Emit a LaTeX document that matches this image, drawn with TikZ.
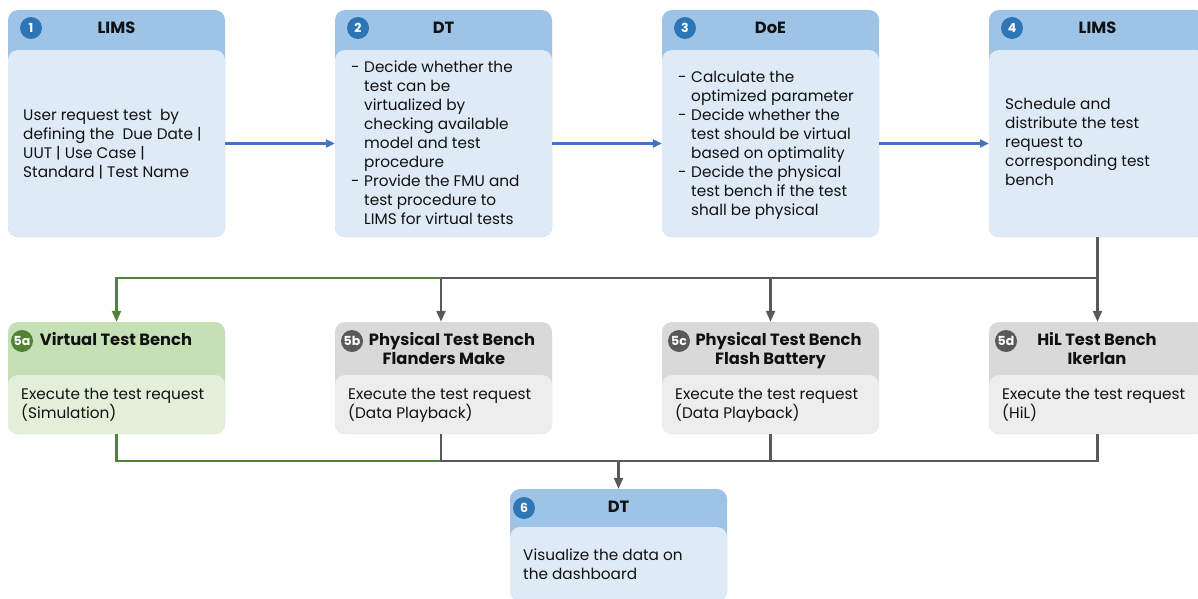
\documentclass[tikz,border=0pt]{standalone}
\usepackage{fontspec}
\setmainfont{Poppins}
\usetikzlibrary{arrows.meta}
\definecolor{bhd}{HTML}{9DC3E6}
\definecolor{bbd}{HTML}{DEEBF7}
\definecolor{bbadge}{HTML}{2E75B6}
\definecolor{ghd}{HTML}{C5E0B4}
\definecolor{gbd}{HTML}{E2F0D9}
\definecolor{gbadge}{HTML}{548235}
\definecolor{khd}{HTML}{D9D9D9}
\definecolor{kbd}{HTML}{EDEDED}
\definecolor{kbadge}{HTML}{595959}
\definecolor{bline}{HTML}{4472C4}
\definecolor{gline}{HTML}{548235}
\definecolor{kline}{HTML}{595959}
\definecolor{txt}{HTML}{111111}
\begin{document}
\begin{tikzpicture}[x=1pt,y=-1pt,
  card/.style={rectangle,rounded corners=10pt,inner sep=0pt,draw=none,minimum width=217pt},
  badge/.style={circle,inner sep=0pt,minimum size=22pt,text=white,font=\fontsize{12.5}{12.5}\selectfont\bfseries},
  hdtext/.style={inner sep=0pt,align=center,text=txt,font=\fontsize{16.3}{19}\selectfont\bfseries},
  bdtext/.style={inner sep=0pt,align=left,anchor=west,text=txt,font=\fontsize{15.3}{19}\selectfont},
  bar/.style={line width=2.2pt},
  barb/.style={bar,draw=bline,-{Triangle[length=9pt,width=8pt]}},
  tipk/.style={-{Triangle[length=11pt,width=9pt]}},
]
\useasboundingbox (0,0) rectangle (1198,599);
\fill[white] (0,0) rectangle (1198,599);
\newcommand{\dash}{\makebox[13pt][l]{-}}
\newcommand{\ind}{\hspace*{13pt}}
% ---- row 1
\node[card,fill=bhd,minimum height=227pt] (b1) at (116.5,123.5) {};
\node[card,fill=bbd,minimum height=187pt] (b1b) at (116.5,143.5) {};
\node[badge,fill=bbadge] (n1) at (31,28) {1};
\node[hdtext] (h1) at (116.5,28) {LIMS};
\node[bdtext] (t1) at (23,144) {User request test\ \ by\\defining the\ \ Due Date |\\UUT | Use Case |\\Standard | Test Name};

\node[card,fill=bhd,minimum height=227pt] (b2) at (443.5,123.5) {};
\node[card,fill=bbd,minimum height=187pt] (b2b) at (443.5,143.5) {};
\node[badge,fill=bbadge] (n2) at (358,28) {2};
\node[hdtext] (h2) at (443.5,28) {DT};
\node[bdtext] (t2) at (351,143) {\dash Decide whether the\\\ind test can be\\\ind virtualized by\\\ind checking available\\\ind model and test\\\ind procedure\\\dash Provide the FMU and\\\ind test procedure to\\\ind LIMS for virtual tests};

\node[card,fill=bhd,minimum height=227pt] (b3) at (770.5,123.5) {};
\node[card,fill=bbd,minimum height=187pt] (b3b) at (770.5,143.5) {};
\node[badge,fill=bbadge] (n3) at (685,28) {3};
\node[hdtext] (h3) at (770.5,28) {DoE};
\node[bdtext] (t3) at (678,145.5) {\dash Calculate the\\\ind optimized parameter\\\dash Decide whether the\\\ind test should be virtual\\\ind based on optimality\\\dash Decide the physical\\\ind test bench if the test\\\ind shall be physical};

\node[card,fill=bhd,minimum height=227pt] (b4) at (1097.5,123.5) {};
\node[card,fill=bbd,minimum height=187pt] (b4b) at (1097.5,143.5) {};
\node[badge,fill=bbadge] (n4) at (1012,28) {4};
\node[hdtext] (h4) at (1097.5,28) {LIMS};
\node[bdtext] (t4) at (1005,142) {Schedule and\\distribute the test\\request to\\corresponding test\\bench};

% ---- row 2
\node[card,fill=ghd,minimum height=112pt] (b5a) at (116.5,378) {};
\node[card,fill=gbd,minimum height=59pt] (b5ab) at (116.5,404.5) {};
\node[badge,fill=gbadge] (n5a) at (22,341) {5a};
\node[hdtext] (h5a) at (116,339) {Virtual Test Bench};
\node[bdtext] (t5a) at (21,405) {Execute the test request\\(Simulation)};

\node[card,fill=khd,minimum height=112pt] (b5b) at (443.5,378) {};
\node[card,fill=kbd,minimum height=59pt] (b5bb) at (443.5,404.5) {};
\node[badge,fill=kbadge] (n5b) at (352,341) {5b};
\node[hdtext] (h5b) at (452,349) {Physical Test Bench\\Flanders Make\hspace*{16pt}};
\node[bdtext] (t5b) at (348,405) {Execute the test request\\(Data Playback)};

\node[card,fill=khd,minimum height=112pt] (b5c) at (770.5,378) {};
\node[card,fill=kbd,minimum height=59pt] (b5cb) at (770.5,404.5) {};
\node[badge,fill=kbadge] (n5c) at (679,341) {5c};
\node[hdtext] (h5c) at (778.5,351) {Physical Test Bench\\Flash Battery\hspace*{16pt}};
\node[bdtext] (t5c) at (675,405) {Execute the test request\\(Data Playback)};

\node[card,fill=khd,minimum height=112pt] (b5d) at (1097.5,378) {};
\node[card,fill=kbd,minimum height=59pt] (b5db) at (1097.5,404.5) {};
\node[badge,fill=kbadge] (n5d) at (1006,341) {5d};
\node[hdtext] (h5d) at (1097,349) {HiL Test Bench\\Ikerlan};
\node[bdtext] (t5d) at (1002,405) {Execute the test request\\(HiL)};

% ---- row 3
\node[card,fill=bhd,minimum height=112pt] (b6) at (618.5,545) {};
\node[card,fill=bbd,minimum height=74pt] (b6b) at (618.5,564) {};
\node[badge,fill=bbadge] (n6) at (524,508) {6};
\node[hdtext] (h6) at (618.5,507) {DT};
\node[bdtext] (t6) at (523,564) {Visualize the data on\\the dashboard};

% ---- connectors
\draw[barb] (b1b.east) -- (b2b.west);
\draw[barb] (b2b.east) -- (b3b.west);
\draw[barb] (b3b.east) -- (b4b.west);

\coordinate (j) at (1097.5,278);
\coordinate (jb) at (441,278);
\draw[bar,draw=kline] (b4.south) -- (j);
\draw[bar,draw=kline] (j) -- (jb);
\draw[bar,draw=kline,tipk] (jb) -- (b5b.north -| jb);
\draw[bar,draw=kline,tipk] (j -| b5c.north) -- (b5c.north);
\draw[bar,draw=kline,tipk] (j) -- (b5d.north);
\draw[bar,draw=gline,tipk] (jb) -| (b5a.north);

\coordinate (kb) at (441,461);
\coordinate (k) at (618.5,461);
\draw[bar,draw=gline] (b5a.south) |- (kb);
\draw[bar,draw=kline] (b5b.south -| kb) -- (kb);
\draw[bar,draw=kline] (b5c.south) -- (b5c.south |- kb);
\draw[bar,draw=kline] (b5d.south) |- (kb);
\draw[bar,draw=kline,tipk] (k) -- (b6.north);
\end{tikzpicture}
\end{document}
